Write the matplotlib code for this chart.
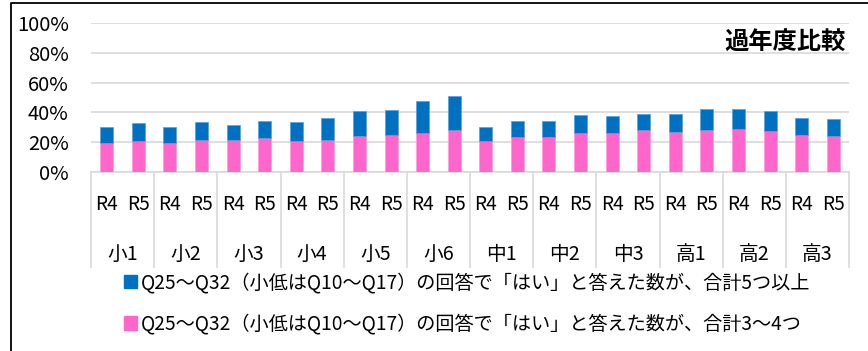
import matplotlib
matplotlib.use("Agg")
import matplotlib.pyplot as plt
import matplotlib.transforms as mtransforms
from matplotlib.patches import Patch
from matplotlib.lines import Line2D
import numpy as np

plt.rcParams['font.family'] = ['Noto Sans CJK JP', 'DejaVu Sans']

grades = ["小1", "小2", "小3", "小4", "小5", "小6", "中1", "中2", "中3", "高1", "高2", "高3"]
years = ["R4", "R5"]

# share answering 3-4 "yes" (bottom segment), in %
pink_34 = [19.7, 20.8, 19.7, 21.7, 21.3, 22.6, 21.0, 21.7, 24.2, 24.6, 26.4, 28.4,
           20.8, 23.7, 23.7, 26.4, 26.2, 28.0, 27.1, 28.2, 28.9, 27.7, 24.8, 24.4]
# share answering 5 or more "yes" (top segment), in %
blue_5plus = [10.7, 12.1, 10.7, 11.6, 10.2, 11.8, 12.8, 14.5, 16.7, 17.0, 21.5, 22.4,
              9.2, 10.3, 10.7, 11.6, 11.4, 11.1, 11.8, 13.9, 13.4, 13.0, 11.4, 11.4]

label_5plus = "Q25～Q32（小低はQ10～Q17）の回答で「はい」と答えた数が、合計5つ以上"
label_34 = "Q25～Q32（小低はQ10～Q17）の回答で「はい」と答えた数が、合計3～4つ"
title_text = "過年度比較"

BLUE = "#0070C0"
PINK = "#FF66CC"
GRID = "#D9D9D9"

W, H = 868, 351
fig = plt.figure(figsize=(W / 100, H / 100), dpi=100)
ax = fig.add_axes([91 / W, 1 - 172 / H, (849 - 91) / W, (172 - 23) / H])

n = len(pink_34)
x = np.arange(n)
pink = np.array(pink_34) / 100
blue = np.array(blue_5plus) / 100
bw = 0.41
ax.bar(x, pink, width=bw, color=PINK, edgecolor="#FF99DD", linewidth=0.5, zorder=3)
ax.bar(x, blue, width=bw, bottom=pink, color=BLUE, edgecolor="#5AA0D8", linewidth=0.5, zorder=3)

ax.set_xlim(-0.5, n - 0.5)
ax.set_ylim(0, 1.0)
ax.set_yticks(np.arange(0, 1.01, 0.2))
ax.set_yticklabels([f"{int(v*100)}%" for v in np.arange(0, 1.01, 0.2)], fontsize=14.5)
ax.tick_params(axis='y', length=0, pad=16)
ax.yaxis.grid(True, color=GRID, linewidth=1.2, zorder=0)
ax.set_axisbelow(True)
for s in ["top", "right", "left"]:
    ax.spines[s].set_visible(False)
ax.spines["bottom"].set_color(GRID)
ax.spines["bottom"].set_linewidth(1.2)
ax.set_xticks([])

trans = mtransforms.blended_transform_factory(ax.transData, ax.transAxes)
# category separators
for b in np.arange(-0.5, n, 2):
    ax.add_line(Line2D([b, b], [0, -0.64], transform=trans, color=GRID,
                       linewidth=1.2, clip_on=False))
# two-level category labels
for i in range(n):
    ax.text(x[i], -0.22, years[i % 2], transform=trans, ha="center", va="center",
            fontsize=13.8)
for g, name in enumerate(grades):
    ax.text(2 * g + 0.5, -0.555, name, transform=trans, ha="center", va="center",
            fontsize=14.2)

ax.text(0.995, 0.87, title_text, transform=ax.transAxes, ha="right", va="center",
        fontsize=17.5, fontweight="bold")

handles = [Patch(facecolor=BLUE, edgecolor=BLUE), Patch(facecolor=PINK, edgecolor=PINK)]
fig.legend(handles, [label_5plus, label_34], loc="upper left",
           bbox_to_anchor=(124 / W, 1 - 272 / H), frameon=False, fontsize=13.8,
           handlelength=0.68, handleheight=0.68, handletextpad=0.2, labelspacing=1.08,
           borderpad=0, borderaxespad=0)

# outer chart frame
fig.add_artist(Line2D([11 / W, 11 / W, 1.0], [0.0, 1 - 3 / H, 1 - 3 / H],
                      transform=fig.transFigure, color="black", linewidth=1.3))

fig.savefig("out.png", dpi=100)
